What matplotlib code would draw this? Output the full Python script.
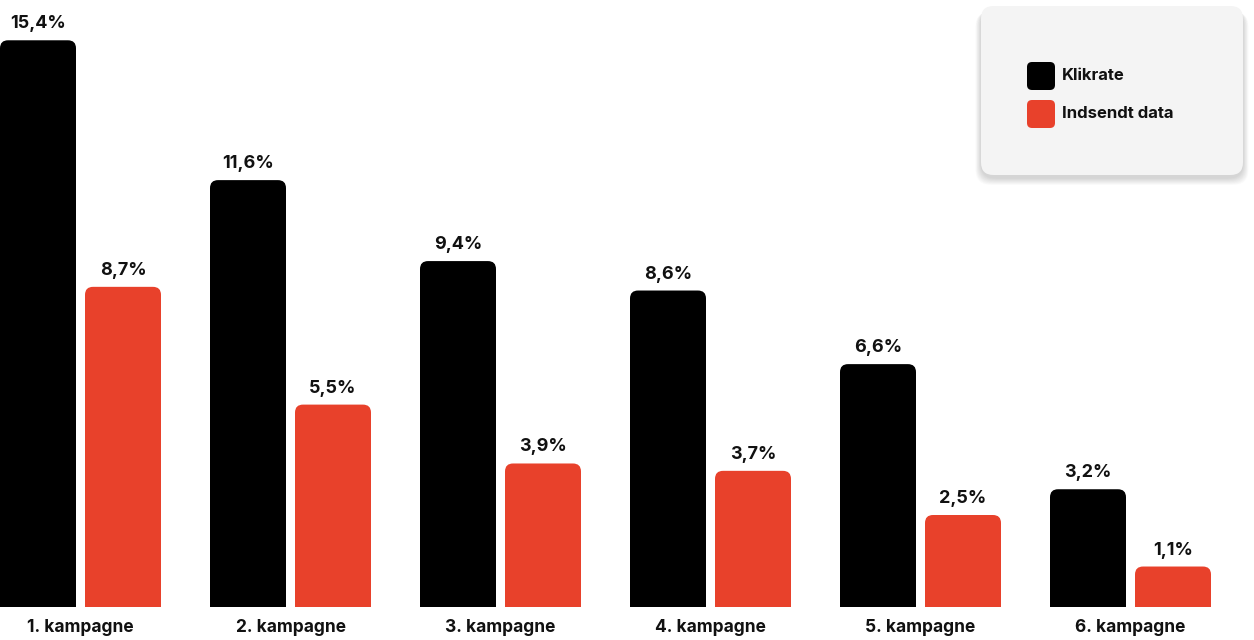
import matplotlib
matplotlib.use("Agg")
import matplotlib.pyplot as plt
from matplotlib.patches import FancyBboxPatch
import numpy as np

categories = ["1. kampagne", "2. kampagne", "3. kampagne", "4. kampagne", "5. kampagne", "6. kampagne"]
klikrate = [15.4, 11.6, 9.4, 8.6, 6.6, 3.2]
indsendt = [8.7, 5.5, 3.9, 3.7, 2.5, 1.1]
series_names = ["Klikrate", "Indsendt data"]
colors = ["#000000", "#E8412B"]

W, H = 1254, 640
plt.rcParams['font.family'] = ['Inter', 'DejaVu Sans']
fig = plt.figure(figsize=(W / 100, H / 100), dpi=100)
ax = fig.add_axes([0, 33 / H, 1, 1 - 33 / H])
ax.set_xlim(-80.5 / 210, (W - 80.5) / 210)
ax.set_ylim(0, 607 / 36.8)
ax.axis('off')

x = np.arange(len(categories))
width = 76 / 210
offset = 42.5 / 210
px_x = 210.0
px_y = 36.8
radius = 8 / px_x  # in x data units
aspect = px_x / px_y

for vals, sign, col in [(klikrate, -1, colors[0]), (indsendt, 1, colors[1])]:
    bars = ax.bar(x + sign * offset, vals, width, color=col)
    for b, v in zip(bars, vals):
        b.set_visible(False)
        x0 = b.get_x()
        h = b.get_height()
        # rounded top corners; bottom extends below baseline and is clipped
        p = FancyBboxPatch((x0, -1), b.get_width(), h + 1,
                           boxstyle=f"round,pad=0,rounding_size={radius}",
                           mutation_aspect=aspect, facecolor=col,
                           edgecolor='none', clip_on=True)
        ax.add_patch(p)
        ax.annotate(f"{v:.1f}".replace('.', ',') + "%", (b.get_x() + b.get_width() / 2, h),
                    xytext=(0, 8), textcoords='offset pixels', ha='center', va='bottom',
                    fontsize=13, fontweight='bold', color='#111111')

for xi, c in zip(x, categories):
    fig.text((80.5 + 210 * xi) / W, 1 - 628 / H, c, ha='center', va='center',
             fontsize=12.5, fontweight='bold', color='#111111')

# legend box with soft shadow
bx, by, bw, bh = 981, 6, 262, 169
for i in range(14, 0, -1):
    sh = FancyBboxPatch(((bx - i * 0.4) / W, 1 - (by + bh + 3 + i * 0.5) / H),
                        (bw + i * 0.8) / W, (bh + i * 0.3) / H,
                        boxstyle="round,pad=0,rounding_size=0.012",
                        mutation_aspect=W / H, transform=fig.transFigure,
                        facecolor='black', alpha=0.012, edgecolor='none')
    fig.add_artist(sh)
box = FancyBboxPatch((bx / W, 1 - (by + bh) / H), bw / W, bh / H,
                     boxstyle="round,pad=0,rounding_size=0.01",
                     mutation_aspect=W / H, transform=fig.transFigure,
                     facecolor='#F4F4F4', edgecolor='none')
fig.add_artist(box)
for i, (name, col) in enumerate(zip(series_names, colors)):
    top = 62 + 38 * i
    sw = FancyBboxPatch((1027 / W, 1 - (top + 28) / H), 28 / W, 28 / H,
                        boxstyle="round,pad=0,rounding_size=0.004",
                        mutation_aspect=W / H, transform=fig.transFigure,
                        facecolor=col, edgecolor='none')
    fig.add_artist(sw)
    fig.text(1062 / W, 1 - (top + 14) / H, name, ha='left', va='center',
             fontsize=12, fontweight='bold', color='#111111')

fig.savefig("out.png", dpi=100, facecolor='white')
